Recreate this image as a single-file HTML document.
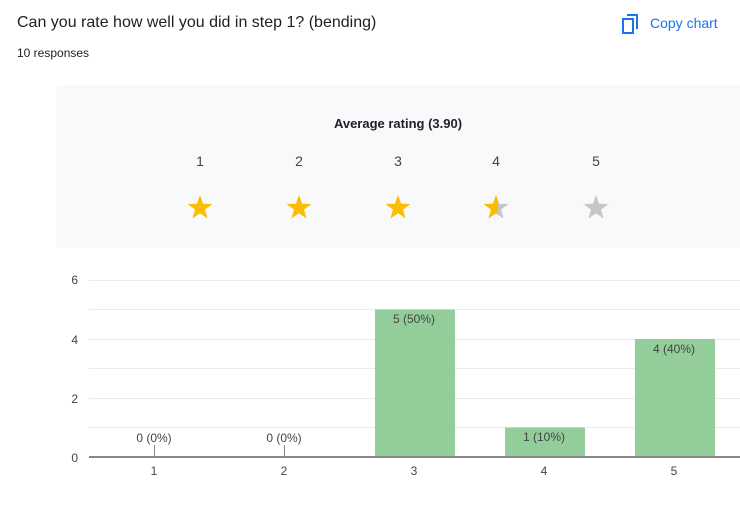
<!DOCTYPE html>
<html><head><meta charset="utf-8"><style>
body{margin:0;width:740px;height:520px;background:#fff;font-family:"Liberation Sans",Arial,sans-serif;position:relative;overflow:hidden}
.t{position:absolute;white-space:nowrap}
</style></head><body>
<div class="t" style="left:17px;top:14px;font-size:16px;color:#202124">Can you rate how well you did in step 1? (bending)</div>
<div class="t" style="left:17px;top:46px;font-size:12px;color:#202124">10 responses</div>
<svg class="t" style="left:620px;top:13px" width="20" height="22" viewBox="0 0 20 22"><path d="M7 2h10v14" fill="none" stroke="#1a73e8" stroke-width="2"/><rect x="3" y="6" width="10" height="14" fill="none" stroke="#1a73e8" stroke-width="2"/></svg>
<div class="t" style="left:650px;top:15px;font-size:14px;color:#1a73e8">Copy chart</div>
<div style="position:absolute;left:56px;top:85px;width:690px;height:163px;background:#f8f9fa;border-radius:4px"></div>
<div class="t" style="left:0;width:796px;text-align:center;top:116px;font-size:13px;font-weight:bold;color:#202124">Average rating (3.90)</div>
<svg class="t" style="left:0;top:0" width="740" height="520">
<defs><clipPath id="h"><rect x="480" y="190" width="18" height="30"/></clipPath>
<path id="s" d="M0,-13 L3.1,-4.2 L12.4,-4 L5,1.6 L7.6,10.5 L0,5.2 L-7.6,10.5 L-5,1.6 L-12.4,-4 L-3.1,-4.2Z"/></defs>
<g font-size="14" fill="#444" text-anchor="middle">
<text x="200" y="166">1</text><text x="299" y="166">2</text><text x="398" y="166">3</text><text x="496" y="166">4</text><text x="596" y="166">5</text></g>
<use href="#s" x="200" y="208" fill="#fbbc04"/><use href="#s" x="299" y="208" fill="#fbbc04"/><use href="#s" x="398" y="208" fill="#fbbc04"/>
<use href="#s" x="496" y="208" fill="#c6c6c6"/>
<g clip-path="url(#h)"><use href="#s" x="496" y="208" fill="#fbbc04"/></g>
<use href="#s" x="596" y="208" fill="#c6c6c6"/>
<g stroke="#ececec" stroke-width="1">
<line x1="89" x2="740" y1="280.5" y2="280.5"/><line x1="89" x2="740" y1="309.5" y2="309.5"/><line x1="89" x2="740" y1="339.5" y2="339.5"/><line x1="89" x2="740" y1="368.5" y2="368.5"/><line x1="89" x2="740" y1="398.5" y2="398.5"/><line x1="89" x2="740" y1="427.5" y2="427.5"/>
</g>
<g font-size="12" fill="#444" text-anchor="end"><text x="78" y="284">6</text><text x="78" y="344">4</text><text x="78" y="403">2</text><text x="78" y="462">0</text></g>
<g fill="#93cd9a"><rect x="375" y="309.5" width="80" height="147.5"/><rect x="505" y="427.5" width="80" height="29.5"/><rect x="635" y="339" width="80" height="118"/></g>
<g stroke="#888"><line x1="154.5" x2="154.5" y1="445" y2="457"/><line x1="284.5" x2="284.5" y1="445" y2="457"/></g>
<line x1="89" x2="740" y1="457" y2="457" stroke="#888" stroke-width="2"/>
<g font-size="12" fill="#444" text-anchor="middle">
<text x="154" y="442">0 (0%)</text><text x="284" y="442">0 (0%)</text><text x="414" y="323">5 (50%)</text><text x="544" y="441">1 (10%)</text><text x="674" y="353">4 (40%)</text>
<text x="154" y="475">1</text><text x="284" y="475">2</text><text x="414" y="475">3</text><text x="544" y="475">4</text><text x="674" y="475">5</text></g>
</svg>
</body></html>
